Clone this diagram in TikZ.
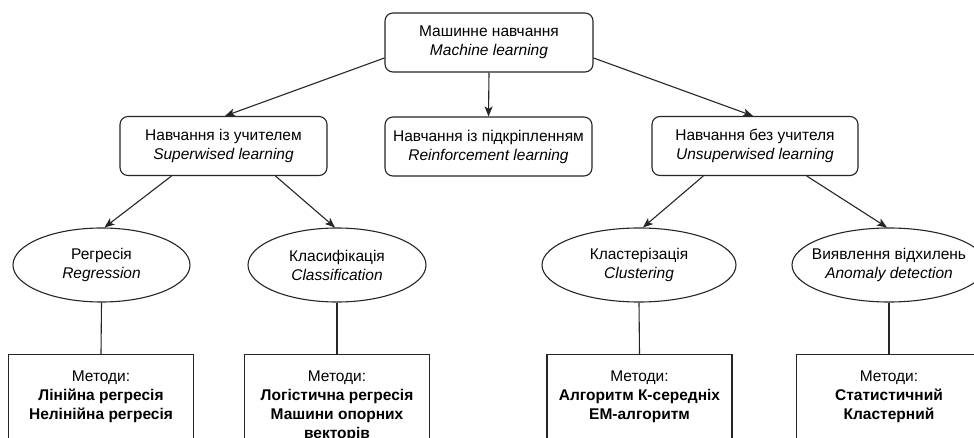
\documentclass[tikz,border=0pt]{standalone}
\usepackage{fontspec}
\setmainfont{Liberation Sans}
\usetikzlibrary{arrows.meta,shapes.geometric,calc}
\begin{document}
\begin{tikzpicture}[x=1pt,y=-1pt,
  every node/.style={font=\fontsize{15.5}{19}\selectfont, align=center, text=black},
  rbox/.style={draw=black!85, line width=1.1pt, rounded corners=8pt, inner sep=0pt, minimum height=59pt},
  ell/.style={draw=black!85, line width=1.1pt, ellipse, inner ysep=0pt, inner xsep=-50pt, minimum height=74pt},
  mbox/.style={draw=black!85, line width=1.1pt, anchor=north, minimum width=185pt, inner xsep=0pt, inner ysep=16.5pt, text depth=70pt},
  arr/.style={draw=black!85, line width=1.1pt, -{Stealth[length=10pt,width=8pt,inset=2.5pt]}},
  ln/.style={draw=black!85, line width=1.1pt}]
\clip (0,0) rectangle (974,438);
\fill[white] (0,0) rectangle (974,438);

\node[rbox, minimum width=208pt] (ml) at (489,42.5) {Машинне навчання\\\textit{Machine learning}};
\node[rbox, minimum width=207pt] (sl) at (223.5,146) {Навчання із учителем\\\textit{Superwised learning}};
\node[rbox, minimum width=207pt] (rl) at (488.5,146.5) {Навчання із підкріпленням\\\textit{Reinforcement learning}};
\node[rbox, minimum width=206pt] (ul) at (755,146) {Навчання без учителя\\\textit{Unsuperwised learning}};

\node[ell, minimum width=177pt] (reg) at (101.5,265) {Регресія\\\textit{Regression}};
\node[ell, minimum width=178pt] (cls) at (337,265) {Класифікація\\\textit{Classification}};
\node[ell, minimum width=194pt] (clu) at (639,265) {Кластерізація\\\textit{Clustering}};
\node[ell, minimum width=194pt] (ano) at (889,265) {Виявлення відхилень\\\textit{Anomaly detection}};

\node[mbox] (mreg) at (101,354) {Методи:\\\textbf{Лінійна регресія}\\\textbf{Нелінійна регресія}};
\node[mbox] (mcls) at (337,354) {Методи:\\\textbf{Логістична регресія}\\\textbf{Машини опорних}\\\textbf{векторів}};
\node[mbox] (mclu) at (639.5,354) {Методи:\\\textbf{Алгоритм К-середніх}\\\textbf{ЕМ-алгоритм}};
\node[mbox] (mano) at (889,354) {Методи:\\\textbf{Статистичний}\\\textbf{Кластерний}};

\draw[arr] ([yshift=-15.5pt]ml.west) -- ([xshift=1.5pt]sl.north);
\draw[arr] (ml.south) -- (rl.north);
\draw[arr] ([yshift=-15.5pt]ml.east) -- ([xshift=-2pt]ul.north);

\draw[arr] ($(sl.south west)!0.25!(sl.south east)$) -- ([xshift=3pt]reg.north);
\draw[arr] ($(sl.south west)!0.75!(sl.south east)$) -- ([xshift=-2pt]cls.north);
\draw[arr] ($(ul.south west)!0.25!(ul.south east)$) -- ([xshift=4pt]clu.north);
\draw[arr] ($(ul.south west)!0.75!(ul.south east)$) -- ([xshift=-2pt]ano.north);

\draw[ln] (reg.south) -- (mreg.north);
\draw[ln] (cls.south) -- (mcls.north);
\draw[ln] (clu.south) -- (mclu.north);
\draw[ln] (ano.south) -- (mano.north);
\end{tikzpicture}
\end{document}
